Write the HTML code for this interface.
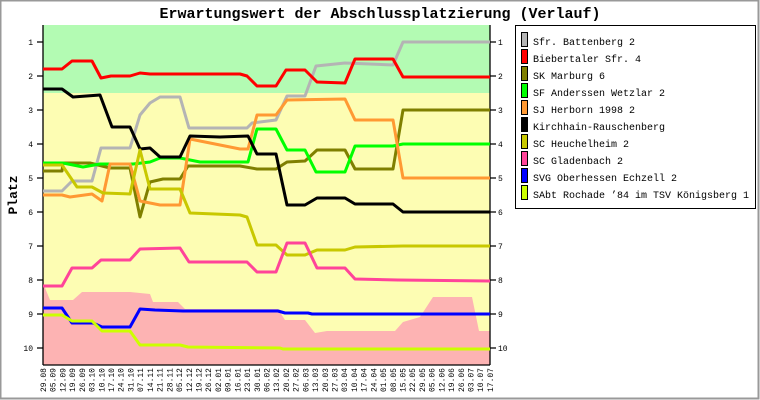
<!DOCTYPE html>
<html><head><meta charset="utf-8"><style>
html,body{margin:0;padding:0;background:#fff}
svg{display:block}
text{font-family:"Liberation Mono",monospace}
</style></head><body>
<svg width="760" height="400" xmlns="http://www.w3.org/2000/svg">
<rect x="0.5" y="0.5" width="758" height="398" fill="#fff" stroke="#999" stroke-width="2"/>
<text x="380" y="18" text-anchor="middle" font-size="15" font-weight="bold">Erwartungswert der Abschlussplatzierung (Verlauf)</text>
<rect x="43" y="25" width="447" height="68" fill="#b3fbb3"/>
<rect x="43" y="93" width="447" height="272" fill="#fdfdb3"/>
<polygon fill="#fdb3b3" points="43,283 50,300 73,300 82,292 130,292 150,294 153,302 178,302 185,309 278,309 285,320 305,320 315,333 327,331 343,331 395,331 403,322 420,317 433,297 472,297 479,331 490,331 490,365 43,365"/>
<g stroke="#000" stroke-width="1.3" fill="none">
<line x1="43" y1="25" x2="43" y2="365"/>
<line x1="490" y1="25" x2="490" y2="365"/>
<line x1="43" y1="365" x2="490" y2="365"/>
<path d="M37,42h6M37,76h6M37,110h6M37,144h6M37,178h6M37,212h6M37,246h6M37,280h6M37,314h6M37,348h6
M490,42h6M490,76h6M490,110h6M490,144h6M490,178h6M490,212h6M490,246h6M490,280h6M490,314h6M490,348h6"/>
</g>
<g font-size="8" text-anchor="end">
<text x="33" y="45">1</text><text x="33" y="79">2</text><text x="33" y="113">3</text><text x="33" y="147">4</text><text x="33" y="181">5</text><text x="33" y="215">6</text><text x="33" y="249">7</text><text x="33" y="283">8</text><text x="33" y="317">9</text><text x="33" y="351">10</text>
</g>
<g font-size="8">
<text x="498" y="45">1</text><text x="498" y="79">2</text><text x="498" y="113">3</text><text x="498" y="147">4</text><text x="498" y="181">5</text><text x="498" y="215">6</text><text x="498" y="249">7</text><text x="498" y="283">8</text><text x="498" y="317">9</text><text x="498" y="351">10</text>
</g>
<text transform="translate(17,195) rotate(-90)" text-anchor="middle" font-size="13" font-weight="bold">Platz</text>
<g fill="none" stroke-width="3" stroke-linejoin="round">
<polyline stroke="#b4b4b4" points="43,191 62,191 72,181 92,181 101,148 130,148 140,115 150,103 160,97 180,97 189,128 247,128 252,123 276,120 287,96 305,96 316,66 345,63 393,65 403,42 490,42"/>
<polyline stroke="#ff0000" points="43,69 62,69 72,61 92,61 101,78 111,76 130,76 140,73 150,74 240,74 247,76 257,86 276,86 286,70 305,70 317,82 345,83 355,59 393,59 403,77 490,77"/>
<polyline stroke="#7f7f00" points="43,171 62,171 63,163 90,163 110,168 130,168 140,217 150,182 163,179 180,179 188,166 240,166 257,169 276,169 287,162 305,161 317,150 345,150 355,169 393,169 403,110 490,110"/>
<polyline stroke="#00ff00" points="43,163 63,163 83,167 100,164 133,164 150,162 160,158 180,158 200,162 248,162 257,129 276,129 287,150 305,150 316,172 345,172 355,146 393,146 403,144 490,144"/>
<polyline stroke="#ff9933" points="43,195 62,195 70,197 92,194 102,201 110,164 130,164 140,201 160,205 180,205 190,139 240,149 248,149 257,115 276,115 287,100 345,99 355,120 393,120 403,178 490,178"/>
<polyline stroke="#000000" points="43,89 62,89 73,97 100,95 112,127 130,127 140,149 150,148 160,157 180,157 190,136 220,137 248,136 257,154 276,154 287,205 305,205 317,198 345,198 355,204 393,204 403,212 490,212"/>
<polyline stroke="#c8c800" points="43,165 62,165 77,187 92,187 103,193 130,194 140,150 150,189 180,189 190,213 240,215 247,217 257,245 276,245 287,255 305,255 317,250 345,250 355,247 403,246 490,246"/>
<polyline stroke="#ff4499" points="43,286 62,286 72,268 92,268 101,260 130,260 140,249 180,248 189,262 247,262 257,272 276,272 287,243 305,243 317,268 345,268 355,279 398,280 490,281"/>
<polyline stroke="#0000ff" points="43,308 62,308 72,323 93,323 102,327 130,327 140,309 155,310 183,311 278,311 285,313 308,313 312,314 490,314"/>
<polyline stroke="#ccff00" points="43,315 62,315 72,321 92,321 102,331 130,331 140,345 180,345 188,347 280,348 283,349 490,349"/>
</g>
<g font-size="8" text-anchor="end">
<text transform="translate(46,368) rotate(-90)">29.08</text>
<text transform="translate(55.7,368) rotate(-90)">05.09</text>
<text transform="translate(65.4,368) rotate(-90)">12.09</text>
<text transform="translate(75.2,368) rotate(-90)">19.09</text>
<text transform="translate(84.9,368) rotate(-90)">26.09</text>
<text transform="translate(94.6,368) rotate(-90)">03.10</text>
<text transform="translate(104.3,368) rotate(-90)">10.10</text>
<text transform="translate(114,368) rotate(-90)">17.10</text>
<text transform="translate(123.7,368) rotate(-90)">24.10</text>
<text transform="translate(133.5,368) rotate(-90)">31.10</text>
<text transform="translate(143.2,368) rotate(-90)">07.11</text>
<text transform="translate(152.9,368) rotate(-90)">14.11</text>
<text transform="translate(162.6,368) rotate(-90)">21.11</text>
<text transform="translate(172.3,368) rotate(-90)">28.11</text>
<text transform="translate(182,368) rotate(-90)">05.12</text>
<text transform="translate(191.8,368) rotate(-90)">12.12</text>
<text transform="translate(201.5,368) rotate(-90)">19.12</text>
<text transform="translate(211.2,368) rotate(-90)">26.12</text>
<text transform="translate(220.9,368) rotate(-90)">02.01</text>
<text transform="translate(230.6,368) rotate(-90)">09.01</text>
<text transform="translate(240.3,368) rotate(-90)">16.01</text>
<text transform="translate(250,368) rotate(-90)">23.01</text>
<text transform="translate(259.8,368) rotate(-90)">30.01</text>
<text transform="translate(269.5,368) rotate(-90)">06.02</text>
<text transform="translate(279.2,368) rotate(-90)">13.02</text>
<text transform="translate(288.9,368) rotate(-90)">20.02</text>
<text transform="translate(298.6,368) rotate(-90)">27.02</text>
<text transform="translate(308.3,368) rotate(-90)">06.03</text>
<text transform="translate(318.1,368) rotate(-90)">13.03</text>
<text transform="translate(327.8,368) rotate(-90)">20.03</text>
<text transform="translate(337.5,368) rotate(-90)">27.03</text>
<text transform="translate(347.2,368) rotate(-90)">03.04</text>
<text transform="translate(356.9,368) rotate(-90)">10.04</text>
<text transform="translate(366.6,368) rotate(-90)">17.04</text>
<text transform="translate(376.4,368) rotate(-90)">24.04</text>
<text transform="translate(386.1,368) rotate(-90)">01.05</text>
<text transform="translate(395.8,368) rotate(-90)">08.05</text>
<text transform="translate(405.5,368) rotate(-90)">15.05</text>
<text transform="translate(415.2,368) rotate(-90)">22.05</text>
<text transform="translate(424.9,368) rotate(-90)">29.05</text>
<text transform="translate(434.6,368) rotate(-90)">05.06</text>
<text transform="translate(444.4,368) rotate(-90)">12.06</text>
<text transform="translate(454.1,368) rotate(-90)">19.06</text>
<text transform="translate(463.8,368) rotate(-90)">26.06</text>
<text transform="translate(473.5,368) rotate(-90)">03.07</text>
<text transform="translate(483.2,368) rotate(-90)">10.07</text>
<text transform="translate(493,368) rotate(-90)">17.07</text>
</g>
<rect x="515.5" y="25.5" width="240" height="183" fill="#fff" stroke="#000" stroke-width="1"/>
<g stroke="#000" stroke-width="1">
<rect x="521.5" y="32.5" width="6" height="14" fill="#b4b4b4"/>
<rect x="521.5" y="49.5" width="6" height="14" fill="#ff0000"/>
<rect x="521.5" y="66.5" width="6" height="14" fill="#7f7f00"/>
<rect x="521.5" y="83.5" width="6" height="14" fill="#00ff00"/>
<rect x="521.5" y="100.5" width="6" height="14" fill="#ff9933"/>
<rect x="521.5" y="117.5" width="6" height="14" fill="#000000"/>
<rect x="521.5" y="134.5" width="6" height="14" fill="#c8c800"/>
<rect x="521.5" y="151.5" width="6" height="14" fill="#ff4499"/>
<rect x="521.5" y="168.5" width="6" height="14" fill="#0000ff"/>
<rect x="521.5" y="185.5" width="6" height="14" fill="#ccff00"/>
</g>
<g font-size="10">
<text x="533" y="45">Sfr. Battenberg 2</text>
<text x="533" y="62">Biebertaler Sfr. 4</text>
<text x="533" y="79">SK Marburg 6</text>
<text x="533" y="96">SF Anderssen Wetzlar 2</text>
<text x="533" y="113">SJ Herborn 1998 2</text>
<text x="533" y="130">Kirchhain-Rauschenberg</text>
<text x="533" y="147">SC Heuchelheim 2</text>
<text x="533" y="164">SC Gladenbach 2</text>
<text x="533" y="181">SVG Oberhessen Echzell 2</text>
<text x="533" y="198">SAbt Rochade ’84 im TSV Königsberg 1</text>
</g>
</svg>
</body></html>
